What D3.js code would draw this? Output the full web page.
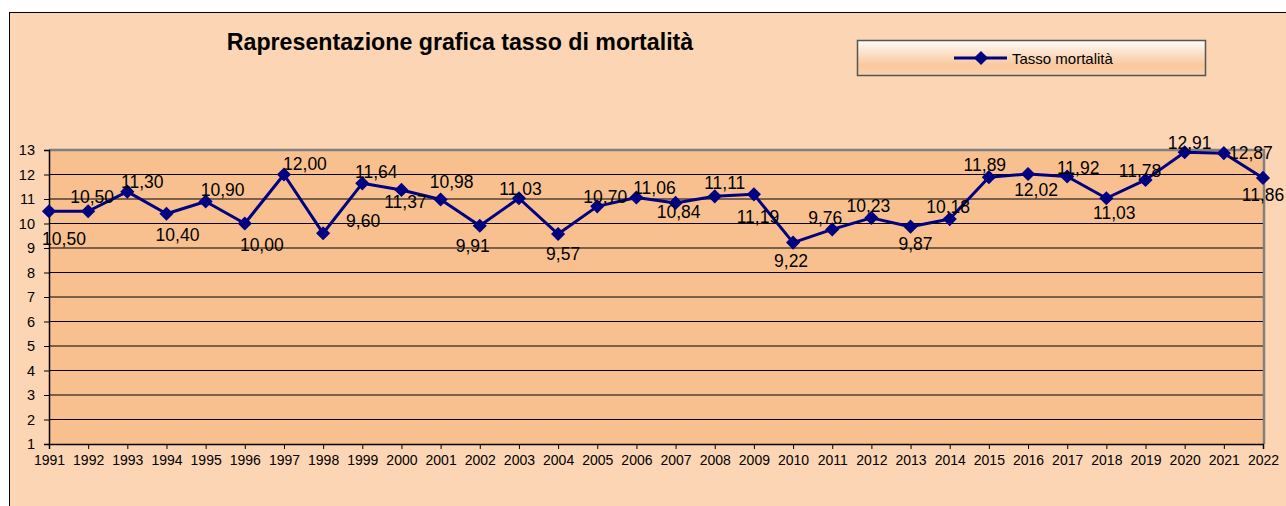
<!DOCTYPE html>
<html>
<head>
<meta charset="utf-8">
<script src="https://cdn.jsdelivr.net/npm/d3@7"></script>
<style>
  body { margin: 0; background: #fff; }
  text { font-family: "Liberation Sans", Arial, sans-serif; }
</style>
</head>
<body>
<div id="chart"></div>
<script>
const width = 1286
const height = 506

// Dati
const years = ["1991","1992","1993","1994","1995","1996","1997","1998","1999","2000",
  "2001","2002","2003","2004","2005","2006","2007","2008","2009","2010",
  "2011","2012","2013","2014","2015","2016","2017","2018","2019","2020","2021","2022"]
const tasso = [10.50, 10.50, 11.30, 10.40, 10.90, 10.00, 12.00, 9.60, 11.64, 11.37,
  10.98, 9.91, 11.03, 9.57, 10.70, 11.06, 10.84, 11.11, 11.19, 9.22,
  9.76, 10.23, 9.87, 10.18, 11.89, 12.02, 11.92, 11.03, 11.78, 12.91, 12.87, 11.86]
const yTicks = [1,2,3,4,5,6,7,8,9,10,11,12,13]
const title = "Rapresentazione grafica tasso di mortalità"
const seriesName = "Tasso mortalità"

// spostamento etichette (come trascinate a mano in Excel)
const labelShift = [[15,27],[4,-15],[15,-10],[11,21],[17,-12],[17,21],[21,-11.5],[40,-12.5],[14,-12],[4,12],
  [11,-17.5],[-7,19.6],[1.5,-9.5],[5,19],[8,-10],[18,-10],[3,9],[10,-14],[4,22],[-2,17.5],
  [-7,-12],[-3,-12],[5,16.6],[-1.5,-13],[-4,-12.7],[8,15],[11,-9],[8,14],[-5.5,-9.3],[5,-9.5],[27,-1],[0,17]]

const fmt = v => v.toFixed(2).replace(".", ",")

let svg = d3.select("#chart")
  .append("svg")
  .attr("width", width)
  .attr("height", height)

// Sfondo e cornice
svg.append("rect").attr("width", width).attr("height", height).attr("fill", "#fff")
svg.append("rect")
  .attr("x", 9.5).attr("y", 12.5)
  .attr("width", 1400).attr("height", 600)
  .attr("fill", "#FBD5B4").attr("stroke", "#000")

const x = d3.scalePoint().domain(years).range([49, 1263])
const y = d3.scaleLinear().domain([1, 13]).range([444, 150])

// Area del grafico
svg.append("rect")
  .attr("x", 49).attr("y", 150)
  .attr("width", 1263 - 49).attr("height", 444 - 150)
  .attr("fill", "#F9C08F")

// Griglia
svg.append("g")
  .selectAll("line")
  .data(yTicks.filter(d => d > 1 && d < 13))
  .enter()
  .append("line")
  .attr("x1", 49).attr("x2", 1263)
  .attr("y1", d => y(d)).attr("y2", d => y(d))
  .attr("stroke", "#000").attr("stroke-width", 1)

// Bordo superiore e destro grigio
svg.append("path")
  .attr("d", `M49,${y(13)}H1264V${y(1)}`)
  .attr("fill", "none").attr("stroke", "#808080").attr("stroke-width", 2.5)

// Assi
const yAxis = svg.append("g")
  .attr("transform", "translate(49,0)")
  .call(d3.axisLeft(y).tickValues(yTicks).tickSize(5).tickPadding(9).tickFormat(d3.format("d")))
yAxis.select(".domain").attr("stroke", "#000").attr("stroke-width", 1.5)
yAxis.selectAll("text").style("font-size", "14.5px").attr("fill", "#000")
  .attr("font-family", "Liberation Sans, Arial, sans-serif")

const xAxis = svg.append("g")
  .attr("transform", "translate(0,444)")
  .call(d3.axisBottom(x).tickSize(5).tickPadding(6))
xAxis.select(".domain").attr("stroke", "#000").attr("stroke-width", 1.5)
xAxis.selectAll("text").style("font-size", "14px").attr("fill", "#000")
  .attr("font-family", "Liberation Sans, Arial, sans-serif")

// Linea
const line = d3.line().x((d, i) => x(years[i])).y(d => y(d))
svg.append("path")
  .datum(tasso)
  .attr("d", line)
  .attr("fill", "none")
  .attr("stroke", "#000080")
  .attr("stroke-width", 3)
  .attr("stroke-linejoin", "round")

// Marcatori a rombo
const diamond = d3.symbol().type(d3.symbolSquare).size(100)
svg.selectAll(".mk")
  .data(tasso)
  .enter()
  .append("path")
  .attr("class", "mk")
  .attr("d", diamond)
  .attr("transform", (d, i) => `translate(${x(years[i])},${y(d)}) rotate(45)`)
  .attr("fill", "#000080")

// Etichette dati
svg.selectAll(".lbl")
  .data(tasso)
  .enter()
  .append("text")
  .attr("class", "lbl")
  .attr("x", (d, i) => x(years[i]) + labelShift[i][0])
  .attr("y", (d, i) => y(d) + labelShift[i][1] + 6.5)
  .attr("text-anchor", "middle")
  .style("font-size", "17.5px")
  .attr("fill", "#000")
  .text(fmt)

// Titolo
svg.append("text")
  .attr("x", 460).attr("y", 50)
  .attr("text-anchor", "middle")
  .style("font-size", "23.2px")
  .style("font-weight", "bold")
  .text(title)

// Legenda
const defs = svg.append("defs")
const grad = defs.append("linearGradient").attr("id", "lg").attr("x1", 0).attr("x2", 0).attr("y1", 0).attr("y2", 1)
grad.append("stop").attr("offset", "0%").attr("stop-color", "#FFFBF7")
grad.append("stop").attr("offset", "70%").attr("stop-color", "#F9C89E")
grad.append("stop").attr("offset", "100%").attr("stop-color", "#FAD2B0")

const legend = svg.append("g")
legend.append("rect")
  .attr("x", 857.5).attr("y", 40.5)
  .attr("width", 348).attr("height", 35)
  .attr("fill", "url(#lg)").attr("stroke", "#555").attr("stroke-width", 1.5)
legend.append("line")
  .attr("x1", 954).attr("x2", 1007).attr("y1", 58).attr("y2", 58)
  .attr("stroke", "#000080").attr("stroke-width", 3)
legend.append("path")
  .attr("d", diamond)
  .attr("transform", "translate(981,58) rotate(45)")
  .attr("fill", "#000080")
legend.append("text")
  .attr("x", 1012).attr("y", 63.5)
  .style("font-size", "15px")
  .text(seriesName)
</script>
</body>
</html>
